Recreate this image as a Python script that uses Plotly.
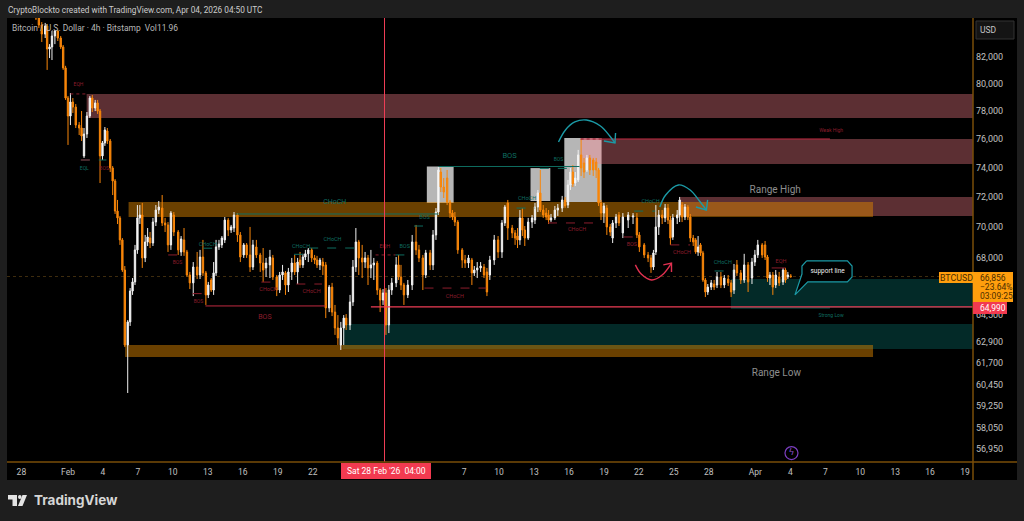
import math
import pandas as pd
import plotly.graph_objects as go

EPOCH = pd.Timestamp("2026-02-01")

candle_hours = [-66,-60,-54,-47,-43,-38,-33,-27,-21,-15,-10,-5,0,5,10,16,23,28,33,39,45,50,56,61,66,71,76,81,87,92,97,102,107,112,117,123,128,133,138,143,148,153,159,164,169,175,181,187,194,200,206,212,218,227,233,239,245,251,258,266,272,278,284,289,295,300,305,311,317,323,330,336,342,349,355,362,368,375,381,388,396,402,408,416,422,430,436,442,448,454,461,467,473,478,484,489,495,502,508,513,519,525,531,538,544,550,556,562,568,573,581,587,593,599,606,612,618,624,630,637,643,649,655,661,667,676,681,686,692,700,709,717,723,731,737,746,752,758,763,768,774,781,787,792,797,803,812,818,825,832,837,843,850,857,863,869,878,886,894,900,906,915,921,926,931,936,941,948,956,962,968,973,979,985,990,995,1003,1009,1018,1024,1030,1035,1040,1045,1051,1057,1063,1069,1075,1082,1088,1093,1098,1104,1110,1117,1122,1129,1135,1143,1154,1164,1172,1177,1187,1195,1201,1206,1211,1217,1224,1230,1236,1241,1246,1255,1260,1265,1271,1277,1282,1288,1293,1298,1303,1308,1313,1318,1325,1331,1337,1345,1352,1360,1366,1372,1378,1386,1393,1401,1409,1415,1421,1430,1436,1441,1446,1452,1458,1465,1473,1478,1483,1489]

candle_open = [85670,85030,84480,83770,84400,82610,82770,83620,84010,83460,82770,81170,78930,77620,78640,78270,76970,76760,74790,76330,77620,78930,78200,78570,77980,74790,75700,76550,75840,73960,73070,71050,70600,69170,67260,62730,64090,65960,66520,68530,70600,70790,68020,69040,69290,68970,70330,71120,71250,70270,70140,68850,70790,69680,68400,69170,68400,66950,66460,67450,66950,68080,67080,65720,66640,66020,67080,68720,68850,69170,70460,69810,69940,70790,69490,68210,68850,68210,67450,68720,68210,67700,67390,67580,68020,66830,66020,66950,67080,66330,67140,67700,67140,67890,67580,68080,68280,68530,68020,67890,67580,67760,67580,64930,66200,64680,63730,62730,63730,64320,63910,65290,67450,69040,68020,67760,68020,67390,67580,67700,66020,65410,65840,63910,66020,66460,67580,66830,66330,65720,66330,69040,68530,68020,66950,68340,67580,69490,70990,73680,72660,73270,71650,70920,70660,70330,68530,67890,67700,67890,67080,67260,67390,67450,67140,66950,67890,69170,68400,70270,71590,69940,69620,69420,69170,70600,69810,69290,70330,70460,71320,72260,71120,70920,70790,70460,70600,71120,71250,71790,71450,72800,73680,72930,73140,74860,74300,73820,74650,74510,74370,73820,71590,70920,71250,70010,69290,70270,70790,69620,70460,70660,70600,69490,68850,68210,68020,67450,68400,70010,70790,70600,71250,70460,69360,70600,70790,71450,70660,71320,70660,69290,69170,68400,68850,68340,66640,65900,66200,66390,66330,66830,66330,66700,66460,66020,67580,67080,66640,67580,66760,67760,68210,68850,68850,68080,66760,66950,66330,66830,66520,67260,66830,66890]

candle_close = [85030,84480,83770,84400,82610,82770,83620,84010,83460,82770,81170,78930,77620,78640,78270,76970,76760,76190,76330,77620,78930,78200,78570,77980,74790,75700,76620,75840,73960,73070,71050,70600,69170,67260,62730,64090,65960,66520,68530,70600,70790,68020,69040,69360,68970,70330,71120,71320,70270,70140,68850,70920,69680,68530,69230,68400,66950,66460,67450,66950,68080,67080,65720,66330,66020,67080,68720,68910,69290,70460,69810,70010,70790,69490,68080,68850,68210,67450,68850,68210,67700,67260,67700,68080,66830,66020,66950,67140,66330,67140,67700,67140,67760,67580,68080,68280,68530,68020,67890,67580,67890,67510,64930,66200,64680,63730,63140,63730,64320,63910,65290,67450,69040,68020,67760,68020,67390,67580,67700,66020,65410,65840,63910,66020,66460,67580,66830,66330,65720,66330,69040,68530,68020,66950,68340,67580,69490,70990,73820,72660,72320,71650,70920,70660,70330,68530,67890,67700,68020,67080,67260,67390,67510,66950,65900,67890,69170,68400,70270,71320,69940,69620,69290,69170,70600,69810,69290,70330,70600,71320,72260,71120,70790,70660,70460,70600,71120,71250,71790,71390,72800,73680,72870,73270,74860,73960,73680,74650,73820,73820,73820,71590,70920,71390,70010,69680,70270,70660,70270,70660,70790,70730,69490,68720,68210,68020,67450,68340,70010,70790,70600,71250,70460,69290,70600,70790,71790,70660,71320,70660,69290,69040,68400,68720,68340,66640,65900,66200,66460,66200,66830,66330,66760,66460,65900,67260,67080,66640,67580,66520,67760,68210,68850,68210,68080,66760,66950,66200,66950,66460,67260,66640,66950,66856]

candle_high = [85830,85190,84710,84640,84560,82990,84010,84090,84090,83620,82920,81330,79080,79300,78930,78490,77190,77980,76760,77910,79080,79150,78790,78790,78130,75840,76830,76760,75980,74090,73200,71790,70730,69290,67510,64200,66140,66760,68850,71450,71450,71590,69490,69940,69680,70600,71450,71720,72120,70600,70330,71050,70990,69810,69420,69940,68530,67140,67760,68400,68530,69170,67200,66520,66760,67760,69170,69170,69420,70660,70600,70140,70990,70920,69680,68970,68970,70010,69170,69170,68340,68650,68020,68530,68210,66950,67140,67580,67200,67390,68020,68210,68020,68400,68280,68530,68650,68650,68210,68150,68020,68020,67760,66330,66460,65110,64500,64090,64500,64560,65720,67890,69940,69170,68850,68400,68210,68530,68020,67830,66140,66080,66140,66330,66760,68080,68210,67580,66460,66640,69490,70140,68850,68210,68530,68530,69810,71250,74030,73960,73270,73820,71790,71120,70990,70460,68650,68210,68210,68020,67510,67760,67760,67640,67390,68150,69490,69420,70460,71450,71790,70140,69810,69940,71120,71250,70070,70600,70790,71590,72460,73820,71450,71250,71120,70860,71390,71520,72060,71990,73140,73960,74160,73680,75210,75980,74650,74860,74860,74650,74650,73960,71790,71590,71450,70200,70460,70860,70990,70920,70990,70920,70920,69680,68970,68400,68210,68530,71450,71120,71120,71520,71520,70730,70860,71120,71990,71650,71520,71450,70860,69490,69290,69420,68970,68470,66760,66390,66640,66640,67140,67140,66950,66950,66640,67640,67890,67260,68280,67760,68020,68530,69170,68970,69100,68210,67140,67140,67260,67140,67390,67390,67140,67010]

candle_low = [84870,84240,83150,83460,81020,81920,81770,82990,83230,82610,81020,78790,75560,76970,77840,76760,76260,75840,74650,76050,77480,77910,77980,77770,72930,74510,75490,75630,73680,72120,70860,70200,68850,67140,62610,59990,63850,65720,66330,68280,70200,67390,67760,68780,68650,68780,70070,70860,70070,69680,68400,68530,69420,68210,68150,68150,66830,66080,65650,66700,66700,66890,65110,65530,65900,65720,66890,68530,68650,68970,69420,69620,69680,69040,67760,68020,68020,67140,67260,68020,67140,66520,66830,66760,66640,65650,65840,66640,65720,65900,66640,66950,66390,67390,67390,67890,67760,67760,67640,67390,67260,66950,64320,64680,64440,63320,62730,62440,62730,63610,63610,65050,67140,66950,66760,67390,66330,66760,66640,65720,64680,65110,63320,63430,65720,66200,66640,66020,65110,65530,66020,68210,67760,66020,66760,67260,67260,69170,70790,72320,71920,71450,70600,70460,70070,68280,67390,67390,67390,66330,66890,66760,67140,66760,65650,66640,67580,68020,68020,70070,69170,69290,68850,68650,68850,69420,68780,69170,69940,70200,70990,70990,70600,70460,70200,70330,70460,70730,70990,71250,71250,72460,72660,72730,73000,73410,73270,73680,73480,73410,73270,71390,70460,70270,69490,69420,68970,69940,70070,69290,69940,70200,69290,68400,68020,67760,67080,67260,68210,69490,70200,70330,70200,68850,69170,70200,70330,70330,70460,70460,69040,68780,68280,68150,68150,66520,65590,65720,66020,66020,66140,66140,66140,66270,65590,65780,66890,66390,66460,65900,66390,67510,68020,68020,67890,66520,66330,65720,66140,66270,66330,66460,66700,66760]

price_ticks = [82000,80000,78000,76000,74000,72000,70000,68000,64500,62900,61700,60450,59250,58050,56950]
price_tick_labels = ["82,000","80,000","78,000","76,000","74,000","72,000","70,000","68,000","64,500","62,900","61,700","60,450","59,250","58,050","56,950"]

date_ticks = ["2026-01-28","2026-02-01","2026-02-04","2026-02-07","2026-02-10","2026-02-13","2026-02-16","2026-02-19","2026-02-22","2026-03-07","2026-03-10","2026-03-13","2026-03-16","2026-03-19","2026-03-22","2026-03-25","2026-03-28","2026-04-01","2026-04-04","2026-04-07","2026-04-10","2026-04-13","2026-04-16","2026-04-19"]
date_tick_labels = ["28","Feb","4","7","10","13","16","19","22","7","10","13","16","19","22","25","28","Apr","4","7","10","13","16","19"]

# zones: days since 1 Feb, price bounds
grey_start = [30.8, 39.7, 42.6]
grey_end = [33.1, 41.4, 45.8]
grey_low = [71590, 71720, 71650]
grey_high = [74060, 73950, 76050]

supply_start = [1.6, 44.0, 52.5]
supply_low = [77480, 74230, 70730]
supply_high = [79230, 75980, 71990]

demand_start = [23.6, 56.9]
demand_low = [62490, 64930]
demand_high = [63960, 66700]

range_start = [5.2, 4.9]
range_low = [70660, 62030]
range_high = [71650, 62730]

# market-structure lines
struct_start = [0.2,1.1,1.1,8.6,11.6,10.7,11.8,14.4,19.4,20.7,16.6,19.6,26.4,28.1,29.7,30.6,31.8,40.5,38.5,41.2,48.6,47.7,51.7,55.5,60.4,44.0,44.0,56.9]
struct_end = [1.7,3.3,2.2,9.9,12.4,11.8,22.1,31.8,20.6,24.9,17.6,21.8,28.1,29.6,31.2,35.9,43.9,43.1,40.1,45.8,50.4,49.1,53.4,57.1,61.6,65.4,45.9,65.4]
struct_price = [79230,74510,74510,68210,68640,65800,65050,70860,68250,68650,66510,66390,68210,68210,70070,66140,74060,73930,71250,70270,71050,69360,68850,67200,67390,75980,75980,64930]
struct_side = ["sell","buy","sell","sell","buy","sell","alert","buy","buy","buy","sell","sell","sell","buy","buy","sell","buy","buy","buy","sell","buy","sell","sell","buy","sell","alert","sell","buy"]
struct_dash = ["dot","dash","dash","dash","dash","dash","solid","solid","dash","dash","dash","dash","dot","dash","dash","dash","solid","dash","dash","dash","dash","dash","dash","dash","solid","solid","dot","solid"]

label_day = [0.9,1.4,3.1,9.4,12.0,11.2,16.9,22.9,20.0,22.7,17.2,20.9,27.2,28.9,30.6,33.2,37.9,42.1,39.4,43.7,50.0,48.4,52.7,56.2,61.2,65.5,65.5,60.7,60.8]
label_price = [79930,73930,73930,67740,68850,65290,64390,71650,68770,69160,66020,65900,68720,68720,70600,65590,74810,74510,71860,69810,71650,68850,68340,67700,67810,76570,64440,72420,61110]
label_text = ["EQH","EQL","BOS","BOS","CHoCH","BOS","BOS","CHoCH","CHoCH","CHoCH","CHoCH","CHoCH","EQH","BOS","BOS","CHoCH","BOS","BOS","CHoCH","CHoCH","CHoCH","BOS","CHoCH","CHoCH","EQH","Weak High","Strong Low","Range High","Range Low"]
label_side = ["sell","buy","sell","sell","buy","sell","sell","buy","buy","buy","sell","sell","sell","buy","buy","sell","buy","buy","buy","sell","buy","sell","sell","buy","sell","sell","buy","plain","plain"]
label_size = [5,5,5,5,5.5,5,7,7,5.5,5.5,5.5,5.5,5.5,5.5,5.5,5.5,7.5,5,5.5,5.5,5.5,5.5,5.5,5.5,5.5,5,5,10,10]

# hand-drawn curves
curve_red_day = [48.7,49.2,50.1,51.0,51.8]
curve_red_price = [67580,67010,66640,66950,67700]
head_red_day = [51.1,51.8,51.8]
head_red_price = [67580,67700,67140]
curve_a_day = [42.1,42.7,43.5,44.5,45.7,46.5,46.95]
curve_a_price = [75770,76620,77190,77330,76900,76190,75700]
head_a_day = [46.0,46.95,47.0]
head_a_price = [75840,75700,76400]
curve_b_day = [50.8,51.3,52.4,53.4,54.2,54.8]
curve_b_price = [71320,72120,72800,72460,71720,71120]
head_b_day = [53.9,54.8,54.9]
head_b_price = [71320,71120,71790]
callout_day = [63.4,66.9,67.3,67.3,66.9,63.5,62.4,63.0,63.0,63.4]
callout_price = [67830,67830,67510,66830,66520,66520,65720,67010,67510,67830]

LAST_PRICE = 66856
ALERT_PRICE = 64990
CROSS_TIME = "2026-02-28 04:00"

ORANGE = "#f8860a"
BROWN = "#7a4e08"
LINE_COL = {"sell": "#8c1d2c", "alert": "#c02a40", "buy": "#0f6d60"}
TEXT_COL = {"sell": "#8c1d2c", "buy": "#0f6d60", "plain": "#8e8e8e"}
FONT = "Roboto"

def when(day):
    return EPOCH + pd.to_timedelta(day, unit="D")

PLOT_L, PLOT_R, PLOT_T, PLOT_B = 7, 973, 18, 462
def PX(x):
    return (x - PLOT_L) / (PLOT_R - PLOT_L)
def PY(y):
    return (PLOT_B - y) / (PLOT_B - PLOT_T)

fig = go.Figure()

fig.add_trace(go.Candlestick(
    x=[EPOCH + pd.Timedelta(hours=h) for h in candle_hours],
    open=candle_open, high=candle_high, low=candle_low, close=candle_close,
    increasing=dict(line=dict(color="#f0f0f0", width=1), fillcolor="#ffffff"),
    decreasing=dict(line=dict(color=ORANGE, width=1), fillcolor=ORANGE),
    whiskerwidth=0, hoverinfo="skip", showlegend=False,
))

for a, b, p, s, d in zip(struct_start, struct_end, struct_price, struct_side, struct_dash):
    fig.add_trace(go.Scatter(x=[when(a), when(b)], y=[p, p], mode="lines",
                             line=dict(color=LINE_COL[s], width=1, dash=d),
                             hoverinfo="skip", showlegend=False))

def curve(days, prices, color, spline=True):
    fig.add_trace(go.Scatter(x=[when(d) for d in days], y=prices, mode="lines",
                             line=dict(color=color, width=1.4, shape="spline" if spline else "linear"),
                             hoverinfo="skip", showlegend=False))

curve(curve_red_day, curve_red_price, "#e03050")
curve(head_red_day, head_red_price, "#e03050", False)
curve(curve_a_day, curve_a_price, "#1b9aa6")
curve(head_a_day, head_a_price, "#1b9aa6", False)
curve(curve_b_day, curve_b_price, "#1b9aa6")
curve(head_b_day, head_b_price, "#1b9aa6", False)

fig.add_trace(go.Scatter(x=[when(d) for d in callout_day], y=callout_price, mode="lines",
                         fill="toself", fillcolor="#000000",
                         line=dict(color="#1b9aa6", width=1.2),
                         hoverinfo="skip", showlegend=False))

fig.add_trace(go.Scatter(x=[when(d) for d in label_day], y=label_price, mode="text",
                         text=label_text,
                         textfont=dict(family=FONT, color=[TEXT_COL[s] for s in label_side], size=label_size),
                         textposition="middle center", hoverinfo="skip", showlegend=False))

fig.add_trace(go.Scatter(x=[when(65.2)], y=[67180], mode="text", text=["support line"],
                         textfont=dict(family=FONT, color="#f0f0f0", size=6.5),
                         hoverinfo="skip", showlegend=False))

fig.add_trace(go.Scatter(x=[when(62.1)], y=[56730], mode="markers+text", text=["ϟ"],
                         marker=dict(symbol="circle-open", size=13, color="#7d3fc0", line=dict(width=1.2)),
                         textfont=dict(family="DejaVu Sans", color="#8a4fd0", size=9),
                         textposition="middle center", hoverinfo="skip", showlegend=False))

shapes = []
shapes.append(dict(type="rect", xref="paper", yref="paper", x0=PX(7), x1=PX(1017), y0=PY(480), y1=PY(18),
                   fillcolor="#000000", line_width=0, layer="below"))

def zone(d0, d1, lo, hi, fill):
    shapes.append(dict(type="rect", xref="x", yref="y", x0=when(d0), x1=when(d1), y0=lo, y1=hi,
                       fillcolor=fill, line_width=0, layer="below"))

for a, b, lo, hi in zip(grey_start, grey_end, grey_low, grey_high):
    zone(a, b, lo, hi, "#b6b6b6")
for a, lo, hi in zip(supply_start, supply_low, supply_high):
    zone(a, 77.7, lo, hi, "rgba(255,130,141,0.36)")
for a, lo, hi in zip(demand_start, demand_low, demand_high):
    zone(a, 77.7, lo, hi, "#032a28")
for a, lo, hi in zip(range_start, range_low, range_high):
    zone(a, 69.1, lo, hi, "rgba(222,134,0,0.48)")

shapes.append(dict(type="line", xref="paper", yref="y", x0=0, x1=1, y0=LAST_PRICE, y1=LAST_PRICE,
                   line=dict(color="#3e2c0e", width=1, dash="dot"), layer="below"))
shapes.append(dict(type="line", xref="x", yref="y", x0=when(26.0), x1=when(77.7), y0=ALERT_PRICE, y1=ALERT_PRICE,
                   line=dict(color="#ee3d55", width=1.3), layer="above"))
shapes.append(dict(type="line", xref="x", yref="paper", x0=CROSS_TIME, x1=CROSS_TIME, y0=0, y1=1,
                   line=dict(color="#ee3d55", width=1), layer="above"))

shapes.append(dict(type="line", xref="paper", yref="paper", x0=PX(973), x1=PX(973), y0=PY(480), y1=PY(18),
                   line=dict(color=BROWN, width=1.5), layer="above"))
shapes.append(dict(type="line", xref="paper", yref="paper", x0=PX(7), x1=PX(1017), y0=PY(462), y1=PY(462),
                   line=dict(color=BROWN, width=1.5), layer="above"))

def flag(x0, x1, y0, y1, fill):
    shapes.append(dict(type="rect", xref="paper", yref="paper", x0=PX(x0), x1=PX(x1), y0=PY(y1), y1=PY(y0),
                       fillcolor=fill, line_width=0, layer="above"))
flag(939, 973, 272, 283, "#ff9e0d")
flag(973, 1013, 272, 302, "#ff9e0d")
flag(973, 1007, 302, 314, "#f23a50")
flag(341, 431, 463, 479, "#f23a50")

shapes.append(dict(type="rect", xref="paper", yref="paper", x0=PX(976), x1=PX(1014), y0=PY(39), y1=PY(21),
                   fillcolor="#141414", line=dict(color="#333333", width=1), layer="above"))

def poly(points):
    return "M" + " L".join(f"{PX(x):.5f},{PY(y):.5f}" for x, y in points) + " Z"
shapes.append(dict(type="path", xref="paper", yref="paper",
                   path=poly([(8, 495), (17, 495), (17, 506), (12.5, 506), (12.5, 499.5), (8, 499.5)]),
                   fillcolor="#e4e4e4", line_width=0, layer="above"))
shapes.append(dict(type="path", xref="paper", yref="paper",
                   path=poly([(22.5, 495), (27, 495), (22.5, 506), (18, 506)]),
                   fillcolor="#e4e4e4", line_width=0, layer="above"))
shapes.append(dict(type="circle", xref="paper", yref="paper", x0=PX(18), x1=PX(21.6), y0=PY(499), y1=PY(495),
                   fillcolor="#e4e4e4", line_width=0, layer="above"))

def note(x, y, text, size, color, anchor="left", bold=False, family=FONT):
    return dict(xref="paper", yref="paper", x=PX(x), y=PY(y), text=f"<b>{text}</b>" if bold else text,
                showarrow=False, xanchor=anchor, yanchor="middle",
                font=dict(family=family, size=size, color=color))

annotations = [
    note(6, 10, "CryptoBlockto created with TradingView.com, Apr 04, 2026 04:50 UTC", 8.25, "#cccccc"),
    note(10, 28, "Bitcoin / U.S. Dollar · 4h · Bitstamp&#160;&#160;Vol11.96", 8.45, "#b8b8b8"),
    note(988, 30, "USD", 8.5, "#c4c4c4", "center"),
    note(956, 277.5, "BTCUSD", 8.8, "#4a2c00", "center"),
    note(978, 277.5, "66,856", 8.5, "#4a2c00"),
    note(978, 286.5, "−23.64%", 8.5, "#4a2c00"),
    note(978, 296, "03:09:25", 8.5, "#4a2c00"),
    note(978, 308, "64,990", 8.5, "#ffffff"),
    note(386, 471, "Sat 28 Feb '26&#160;&#160;04:00", 8.5, "#ffffff", "center"),
    note(32, 500, "TradingView", 13.5, "#d6d6d6", bold=True, family="Inter"),
]

fig.update_layout(
    width=1024, height=521, autosize=False,
    margin=dict(l=PLOT_L, r=1024 - PLOT_R, t=PLOT_T, b=521 - PLOT_B, pad=0),
    paper_bgcolor="#1e1e1e", plot_bgcolor="rgba(0,0,0,0)",
    boxgap=0, showlegend=False, shapes=shapes, annotations=annotations,
    xaxis=dict(type="date", range=["2026-01-26 18:20", "2026-04-19 16:20"], rangeslider=dict(visible=False),
               tickmode="array", tickvals=date_ticks, ticktext=date_tick_labels, ticks="", showgrid=False,
               zeroline=False, showline=False, tickfont=dict(family=FONT, size=8.5, color="#c0c0c0"),
               tickangle=0, fixedrange=True, ticklabelstandoff=3),
    yaxis=dict(type="log", side="right", range=[math.log10(56260), math.log10(85030)],
               tickmode="array", tickvals=price_ticks, ticktext=price_tick_labels, ticks="", showgrid=False,
               zeroline=False, showline=False, tickfont=dict(family=FONT, size=9, color="#c0c0c0"),
               fixedrange=True, ticklabelstandoff=2),
)

assert len({len(candle_hours), len(candle_open), len(candle_close), len(candle_high), len(candle_low)}) == 1

fig.write_html("out.html", config=dict(displayModeBar=False),
               post_script="document.body.style.margin='0';document.body.style.overflow='hidden';document.body.style.background='#1e1e1e';")
